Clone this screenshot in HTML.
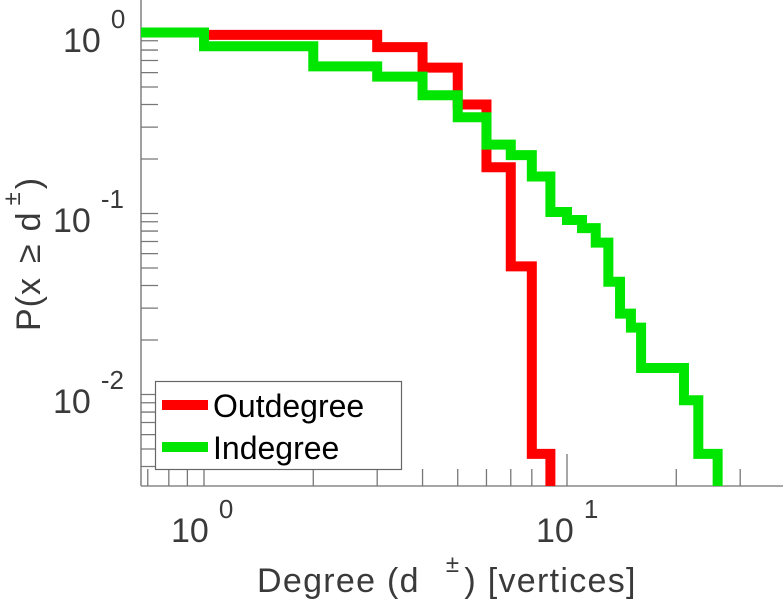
<!DOCTYPE html>
<html><head><meta charset="utf-8"><style>
html,body{margin:0;padding:0;background:#fff;}
svg{display:block;font-family:"Liberation Sans",sans-serif;}
</style></head><body>
<svg id="chart" width="784" height="600" viewBox="0 0 784 600" xmlns="http://www.w3.org/2000/svg">
  <g id="axes"></g>
  <g id="series"></g>
  <g fill="#3a3a3a">
    <text x="63" y="52" font-size="34">10<tspan dx="10" dy="-24" font-size="26">0</tspan></text>
    <text x="53" y="232" font-size="34">10<tspan dx="10" dy="-24" font-size="26">-1</tspan></text>
    <text x="53" y="413" font-size="34">10<tspan dx="10" dy="-24" font-size="26">-2</tspan></text>
  </g>
  <g fill="#3a3a3a">
    <text x="171" y="542" font-size="34">10<tspan dx="10" dy="-24" font-size="26">0</tspan></text>
    <text x="536" y="542" font-size="34">10<tspan dx="10" dy="-24" font-size="26">1</tspan></text>
  </g>
  <text x="257" y="592" font-size="34" fill="#3a3a3a" letter-spacing="1.3">Degree (d<tspan dx="26" dy="-20" font-size="24">±</tspan><tspan dx="4" dy="20">) [vertices]</tspan></text>
  <text transform="translate(40,331) rotate(-90)" x="0" y="0" font-size="34" fill="#3a3a3a" letter-spacing="1">P(x<tspan dx="14">≥</tspan><tspan dx="12">d</tspan><tspan dx="6" dy="-20" font-size="24">±</tspan><tspan dx="2" dy="20">)</tspan></text>
  <g>
    <rect x="155.5" y="381.5" width="246" height="88" fill="#fff" stroke="#666" stroke-width="1.2"/>
    <line x1="162" y1="405" x2="208" y2="405" stroke="#ff0000" stroke-width="10"/>
    <text x="213" y="417" font-size="32" fill="#000">Outdegree</text>
    <line x1="162" y1="447" x2="208" y2="447" stroke="#00e600" stroke-width="10"/>
    <text x="213" y="459" font-size="32" fill="#000">Indegree</text>
  </g>
</svg>
<script>
// data
const outDegree = [1, 3, 4, 5, 6, 7, 8];
const outProb = [0.97, 0.83, 0.64, 0.40, 0.18, 0.051, 0.0047];
const outEnd = 9;
const inDegree = [1, 2, 3, 4, 5, 6, 7, 8, 9, 10, 11, 12, 13, 14, 15, 16, 21, 23];
const inProb = [0.84, 0.65, 0.57, 0.45, 0.34, 0.24, 0.21, 0.16, 0.102, 0.092, 0.083, 0.069, 0.042, 0.028, 0.0234, 0.0140, 0.0093, 0.0047];
const inEnd = 26;
const xMinorTicks = [0.7, 0.8, 0.9, 1, 2, 3, 4, 5, 6, 7, 8, 9, 20, 30];
const xMajorTicks = [10];

const X0 = 141, X1 = 783, Y0 = 0, Y1 = 486;
function xs(v){ return 204 + 363 * Math.log10(v); }
function ys(v){ return 32.5 - 181 * Math.log10(v); }
const xMin = Math.pow(10, (X0 - 204) / 363);
const NS = "http://www.w3.org/2000/svg";
const axes = document.getElementById('axes');
const series = document.getElementById('series');
function mk(tag, attrs, parent){
  const e = document.createElementNS(NS, tag);
  for (const k in attrs) e.setAttribute(k, attrs[k]);
  parent.appendChild(e);
  return e;
}
const yAxis = mk('line', {x1: X0, y1: Y0, x2: X0, y2: Y1, stroke: '#888', 'stroke-width': 1.6}, axes);


const xAxis = mk('line', {x1: X0, y1: Y1, x2: X1, y2: Y1, stroke: '#888', 'stroke-width': 1.6}, axes);


for (let d = -3; d <= 0; d++) {
  for (let m = 1; m <= 9; m++) {
    const v = m * Math.pow(10, d);
    const y = ys(v);
    if (y < Y0 || y > Y1) continue;
    const t = mk('line', {x1: X0, y1: y, x2: X0 + 17, y2: y, stroke: '#777', 'stroke-width': 1.3}, axes);
    
    
  }
}
xMinorTicks.forEach(v => {
  const x = xs(v);
  const t = mk('line', {x1: x, y1: Y1, x2: x, y2: Y1 - 17, stroke: '#777', 'stroke-width': 1.3}, axes);
  
  
});
xMajorTicks.forEach(v => {
  const x = xs(v);
  const t = mk('line', {x1: x, y1: Y1, x2: x, y2: Y1 - 32, stroke: '#777', 'stroke-width': 1.3}, axes);
  
  
});
function stairs(deg, prob, end, startVal){
  let d = 'M' + xs(xMin) + ' ' + ys(startVal);
  for (let i = 0; i < deg.length; i++) {
    d += ' H' + xs(deg[i]) + ' V' + ys(prob[i]);
  }
  d += ' H' + xs(end) + ' V' + Y1;
  return d;
}
const outPath = mk('path', {d: stairs(outDegree, outProb, outEnd, 1), fill: 'none', stroke: '#ff0000', 'stroke-width': 10, 'stroke-linejoin': 'miter'}, series);


const inPath = mk('path', {d: stairs(inDegree, inProb, inEnd, 1), fill: 'none', stroke: '#00e600', 'stroke-width': 10, 'stroke-linejoin': 'miter'}, series);


</script>
</body></html>
